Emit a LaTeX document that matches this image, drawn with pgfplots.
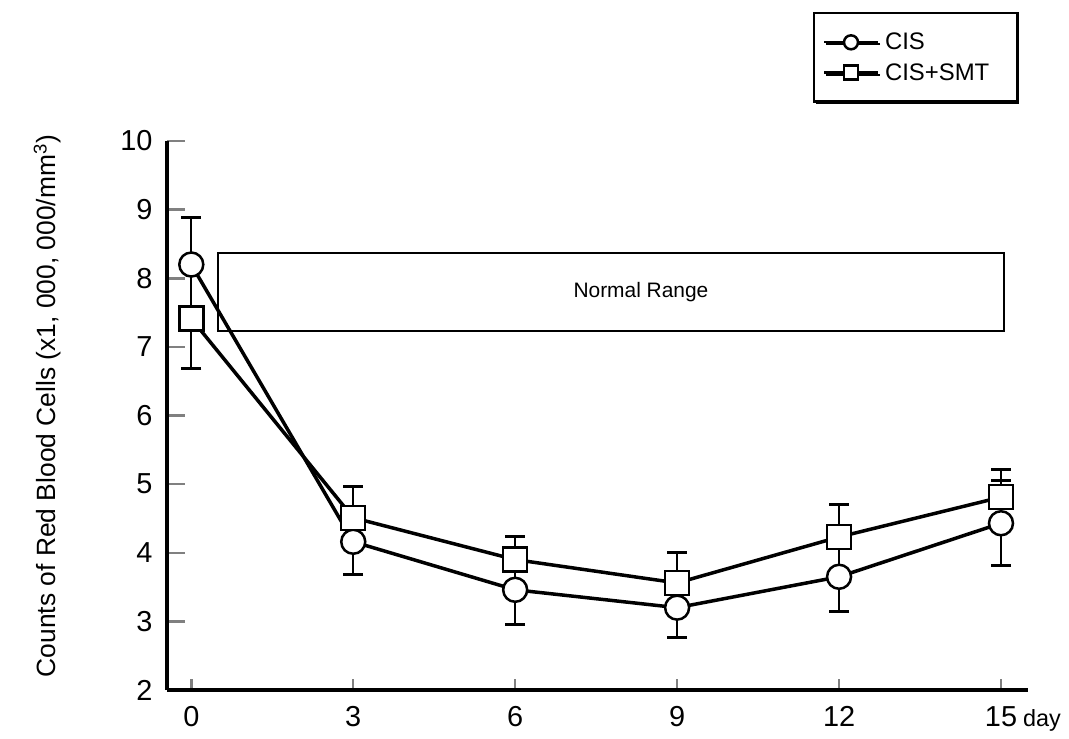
\documentclass[border=0pt]{standalone}
\usepackage{fontspec}
\setmainfont{Liberation Sans}
\usepackage{pgfplots}
\pgfplotsset{compat=1.18}
\usetikzlibrary{shadows}

\begin{document}
\begin{tikzpicture}
\path[use as bounding box] (-167bp,-49bp) rectangle (902bp,690bp);
\begin{axis}[
  at={(0,0)}, anchor=south west,
  scale only axis, width=861bp, height=549bp,
  xmin=-0.45, xmax=15.5, ymin=2, ymax=10,
  axis x line=bottom, axis y line=left,
  axis line style={line width=3.5bp, -},
  xtick={0,3,6,9,12,15}, ytick={2,3,4,5,6,7,8,9,10},
  xticklabels={0,3,6,9,12,{15\rlap{\fontsize{23.5}{26}\selectfont\hspace{6bp}day}}},
  tick align=inside,
  xtick style={line width=2.5bp, /pgfplots/major tick length=11bp},
  ytick style={line width=2.5bp, /pgfplots/major tick length=18bp},
  ticklabel style={font=\fontsize{29}{33}\selectfont},
  xticklabel style={yshift=-13bp},
  yticklabel style={xshift=-11bp},
  /pgf/number format/assume math mode=true,
  ylabel={Counts of Red Blood Cells (x1, 000, 000/mm\textsuperscript{3})},
  ylabel style={font=\fontsize{26.5}{30}\selectfont, at={(axis description cs:-0.139,0.517)}, anchor=center},
  legend style={at={(rel axis cs:0.750,1.235)}, anchor=north west, draw, line width=2.5bp, fill=white,
    font=\fontsize{24}{28}\selectfont, inner xsep=9bp, inner ysep=18bp, row sep=8bp,
    drop shadow={shadow xshift=2bp, shadow yshift=-2bp, opacity=1, fill=black}},
  legend cell align=left,
  legend image code/.code={\draw[mark repeat=2,mark phase=2] plot coordinates {(0bp,0bp) (27bp,0bp) (54bp,0bp)};},
  legend image post style={mark size=7bp, line width=2bp},
]

% normal range band
\addplot[black, line width=2bp, mark=none, forget plot] coordinates {(0.5,7.23) (15.05,7.23) (15.05,8.37) (0.5,8.37)} -- cycle;
\node[font=\fontsize{21}{25}\selectfont] at (axis cs:8.33,7.80) {Normal Range};

% CIS
\addplot[black, line width=3.5bp, mark=*, mark size=12bp, mark options={fill=white, line width=2.5bp},
  error bars/.cd, y dir=both, y explicit,
  error bar style={line width=2.2bp},
  error mark options={rotate=90, mark size=10bp, line width=3bp}]
  coordinates {
    (0,8.20) +- (0,0.68)
    (3,4.16) +- (0,0.47)
    (6,3.46) +- (0,0.51)
    (9,3.20) +- (0,0.44)
    (12,3.65) +- (0,0.51)
    (15,4.43) +- (0,0.62)
  };
\addlegendentry{\kern4bp CIS}

% CIS+SMT
\addplot[black, line width=3.5bp, mark=square*, mark size=12bp, mark options={fill=white, line width=2.5bp},
  error bars/.cd, y dir=both, y explicit,
  error bar style={line width=2.2bp},
  error mark options={rotate=90, mark size=10bp, line width=3bp}]
  coordinates {
    (0,7.41) +- (0,0.73)
    (3,4.51) +- (0,0.45)
    (6,3.90) +- (0,0.34)
    (9,3.56) +- (0,0.45)
    (12,4.23) +- (0,0.47)
    (15,4.81) +- (0,0.41)
  };
\addlegendentry{\kern4bp CIS+SMT\kern17bp}
\end{axis}
\end{tikzpicture}
\end{document}
